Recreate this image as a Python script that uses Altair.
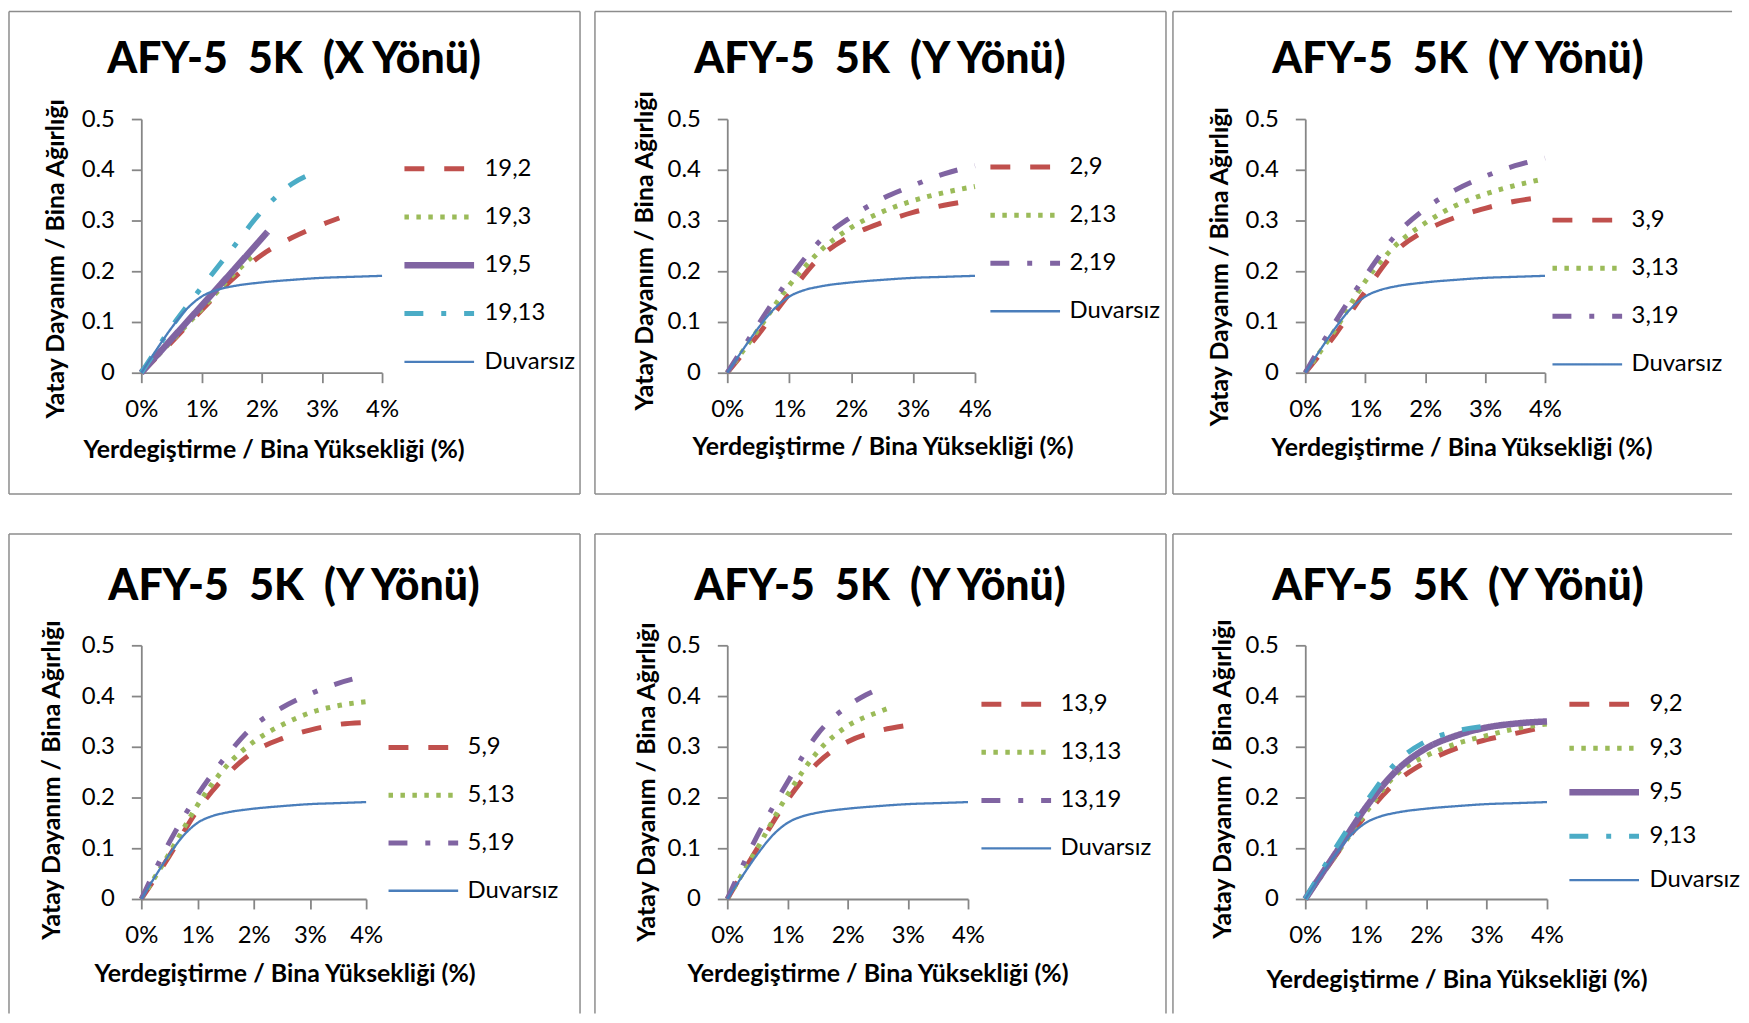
import altair as alt
import pandas as pd

FONT = "Lato"
RED, GREEN, PURPLE, CYAN, BLUE = "#C0504D", "#9BBB59", "#8064A2", "#4BACC6", "#4A7EBB"
BORDER = "#8C8C8C"
AXIS = "#868686"

# ---------------- data ----------------
DUV_X = [0, 0.25, 0.5, 0.75, 1.0, 1.25, 1.5, 2.0, 2.5, 3.0, 3.5, 4.0]
DUV_Y = [0, 0.045, 0.088, 0.125, 0.150, 0.163, 0.170, 0.178, 0.183, 0.187, 0.189, 0.191]

# Panel 1 (X Yönü)
P1_192_X = [0, 0.5, 1.0, 1.5, 2.0, 2.5, 3.0, 3.29]
P1_192_Y = [0, 0.060, 0.123, 0.183, 0.232, 0.266, 0.292, 0.305]
P1_193_X = [0, 0.5, 1.0, 1.5, 1.88]
P1_193_Y = [0, 0.062, 0.125, 0.190, 0.233]
P1_195_X = [0, 0.5, 1.0, 1.5, 2.1]
P1_195_Y = [0, 0.066, 0.132, 0.198, 0.278]
P1_1913_X = [0, 0.25, 0.5, 0.75, 1.0, 1.5, 2.0, 2.5, 2.93]
P1_1913_Y = [0, 0.045, 0.090, 0.130, 0.168, 0.243, 0.318, 0.372, 0.397]

# Panel 2
P2_29_X = [0, 0.5, 1.0, 1.5, 2.0, 2.5, 3.0, 3.5, 4.0]
P2_29_Y = [0, 0.075, 0.155, 0.228, 0.270, 0.296, 0.316, 0.330, 0.340]
P2_213_X = [0, 0.5, 1.0, 1.5, 2.0, 2.5, 3.0, 3.5, 4.0]
P2_213_Y = [0, 0.085, 0.172, 0.240, 0.286, 0.317, 0.339, 0.355, 0.367]
P2_219_X = [0, 0.5, 1.0, 1.5, 2.0, 2.5, 3.0, 3.5, 4.0]
P2_219_Y = [0, 0.095, 0.185, 0.260, 0.307, 0.343, 0.369, 0.392, 0.408]

# Panel 3
P3_39_X = [0, 0.5, 1.0, 1.5, 2.0, 2.5, 3.0, 3.5, 3.9]
P3_39_Y = [0, 0.075, 0.160, 0.238, 0.280, 0.306, 0.324, 0.338, 0.345]
P3_313_X = [0, 0.5, 1.0, 1.5, 2.0, 2.5, 3.0, 3.5, 3.9]
P3_313_Y = [0, 0.085, 0.180, 0.250, 0.295, 0.329, 0.352, 0.369, 0.380]
P3_319_X = [0, 0.5, 1.0, 1.5, 2.0, 2.5, 3.0, 3.5, 4.0]
P3_319_Y = [0, 0.100, 0.190, 0.270, 0.323, 0.360, 0.387, 0.408, 0.423]

# Panel 4
P4_59_X = [0, 0.5, 1.0, 1.5, 2.0, 2.5, 3.0, 3.5, 4.0]
P4_59_Y = [0, 0.085, 0.175, 0.242, 0.290, 0.316, 0.333, 0.344, 0.348]
P4_513_X = [0, 0.5, 1.0, 1.5, 2.0, 2.5, 3.0, 3.5, 4.0]
P4_513_Y = [0, 0.090, 0.185, 0.260, 0.310, 0.343, 0.367, 0.381, 0.389]
P4_519_X = [0, 0.5, 1.0, 1.5, 2.0, 2.5, 3.0, 3.5, 4.0]
P4_519_Y = [0, 0.112, 0.205, 0.280, 0.341, 0.377, 0.404, 0.425, 0.440]

# Panel 5
P5_139_X = [0, 0.5, 1.0, 1.5, 2.0, 2.5, 2.93]
P5_139_Y = [0, 0.100, 0.195, 0.268, 0.310, 0.331, 0.341]
P5_1313_X = [0, 0.5, 1.0, 1.5, 2.0, 2.5, 2.68]
P5_1313_Y = [0, 0.100, 0.205, 0.290, 0.341, 0.368, 0.376]
P5_1319_X = [0, 0.5, 1.0, 1.5, 2.0, 2.3, 2.6]
P5_1319_Y = [0, 0.125, 0.230, 0.325, 0.380, 0.402, 0.418]

# Panel 6
P6_92_X = [0, 0.5, 1.0, 1.5, 2.0, 2.5, 3.0, 3.5, 4.0]
P6_92_Y = [0, 0.085, 0.165, 0.230, 0.270, 0.297, 0.314, 0.327, 0.340]
P6_93_X = [0, 0.5, 1.0, 1.5, 2.0, 2.5, 3.0, 3.5, 4.0]
P6_93_Y = [0, 0.085, 0.170, 0.245, 0.282, 0.306, 0.322, 0.336, 0.345]
P6_95_X = [0, 0.5, 1.0, 1.5, 2.0, 2.5, 3.0, 3.5, 4.0]
P6_95_Y = [0, 0.090, 0.180, 0.252, 0.297, 0.322, 0.338, 0.346, 0.350]
P6_913_X = [0, 0.5, 1.0, 1.5, 2.0, 2.5, 3.1]
P6_913_Y = [0, 0.100, 0.190, 0.268, 0.311, 0.331, 0.342]

X_TICKS = [0, 1, 2, 3, 4]
Y_TICKS = [0, 0.1, 0.2, 0.3, 0.4, 0.5]
X_TITLE = "Yerdegiştirme / Bina Yüksekliği (%)"
Y_TITLE = "Yatay Dayanım / Bina Ağırlığı"
NB = "\u00a0"
TITLE_X = "AFY-5" + NB * 2 + "5K" + NB * 2 + "(X Yönü)"
TITLE_Y = "AFY-5" + NB * 2 + "5K" + NB * 2 + "(Y Yönü)"

# line styles
STY = {
    "dash": (RED, [20, 20], 5),
    "dot": (GREEN, [4.5, 7.5], 5),
    "solidp": (PURPLE, [1, 0], 6.5),
    "dashdotp": (PURPLE, [19, 18, 5, 18], 5),
    "dashdotc": (CYAN, [19, 18, 5, 18], 5),
    "duv": (BLUE, [1, 0], 2.3),
}

PANELS = [
    dict(title=TITLE_X, series=[("19,2", P1_192_X, P1_192_Y, "dash"), ("19,3", P1_193_X, P1_193_Y, "dot"),
                                ("19,5", P1_195_X, P1_195_Y, "solidp"), ("19,13", P1_1913_X, P1_1913_Y, "dashdotc"),
                                ("Duvarsız", DUV_X, DUV_Y, "duv")],
         w=242, yt=(-86, 140), xt=(133, 85), lx=261, lc=50, ls=48.5, row=0, col=0),
    dict(title=TITLE_Y, series=[("2,9", P2_29_X, P2_29_Y, "dash"), ("2,13", P2_213_X, P2_213_Y, "dot"),
                                ("2,19", P2_219_X, P2_219_Y, "dashdotp"), ("Duvarsız", DUV_X, DUV_Y, "duv")],
         w=249, yt=(-83, 132), xt=(156, 82), lx=262, lc=48.3, ls=48.3, row=0, col=1),
    dict(title=TITLE_Y, series=[("3,9", P3_39_X, P3_39_Y, "dash"), ("3,13", P3_313_X, P3_313_Y, "dot"),
                                ("3,19", P3_319_X, P3_319_Y, "dashdotp"), ("Duvarsız", DUV_X, DUV_Y, "duv")],
         w=241, yt=(-86, 148), xt=(157, 83), lx=246, lc=101.6, ls=48.3, row=0, col=2),
    dict(title=TITLE_Y, series=[("5,9", P4_59_X, P4_59_Y, "dash"), ("5,13", P4_513_X, P4_513_Y, "dot"),
                                ("5,19", P4_519_X, P4_519_Y, "dashdotp"), ("Duvarsız", DUV_X, DUV_Y, "duv")],
         w=226, yt=(-90, 135), xt=(144, 83), lx=246, lc=102.7, ls=48, row=1, col=0),
    dict(title=TITLE_Y, series=[("13,9", P5_139_X, P5_139_Y, "dash"), ("13,13", P5_1313_X, P5_1313_Y, "dot"),
                                ("13,19", P5_1319_X, P5_1319_Y, "dashdotp"), ("Duvarsız", DUV_X, DUV_Y, "duv")],
         w=242, yt=(-81, 137), xt=(151, 83), lx=253, lc=59.3, ls=48.3, row=1, col=1),
    dict(title=TITLE_Y, series=[("9,2", P6_92_X, P6_92_Y, "dash"), ("9,3", P6_93_X, P6_93_Y, "dot"),
                                ("9,5", P6_95_X, P6_95_Y, "solidp"), ("9,13", P6_913_X, P6_913_Y, "dashdotc"),
                                ("Duvarsız", DUV_X, DUV_Y, "duv")],
         w=243, yt=(-83, 134), xt=(152, 89), lx=262, lc=59.3, ls=44.2, row=1, col=2),
]

H = 255
ONE = pd.DataFrame({"k": [0]})
CLIP_H = 24       # legend entry height
ENTRY_C = 12      # offset of first entry centre below legendY


def hrule(x, x2, y, color=BORDER):
    return alt.Chart(ONE).mark_rule(color=color, strokeWidth=1.5).encode(
        x=alt.value(x), x2=alt.value(x2), y=alt.value(y))


def vrule(x, y, y2, color=BORDER):
    return alt.Chart(ONE).mark_rule(color=color, strokeWidth=1.5).encode(
        x=alt.value(x), y=alt.value(y), y2=alt.value(y2))


def panel(p):
    rows = []
    for name, xs, ys, _ in p["series"]:
        for i, (xv, yv) in enumerate(zip(xs, ys)):
            rows.append({"series": name, "x": xv, "y": yv, "i": i})
    df = pd.DataFrame(rows)
    names = [s[0] for s in p["series"]]
    colors = [STY[s[3]][0] for s in p["series"]]
    dashes = [STY[s[3]][1] for s in p["series"]]
    widths = [STY[s[3]][2] for s in p["series"]]

    def leg():
        return alt.Legend(orient="none", legendX=p["lx"], legendY=p["lc"] - ENTRY_C, title=None,
                          symbolType="stroke", symbolSize=4900, labelFont=FONT, labelFontSize=24,
                          labelColor="black", labelOffset=7, clipHeight=CLIP_H,
                          rowPadding=max(0, p["ls"] - CLIP_H), padding=0, labelLimit=300)

    lines = alt.Chart(df).mark_line(interpolate="monotone").encode(
        x=alt.X("x:Q", scale=alt.Scale(domain=[0, 4], nice=False, zero=False),
                axis=alt.Axis(values=X_TICKS, labelExpr="datum.value + '%'", title=X_TITLE,
                              titleX=p["xt"][0], titleY=p["xt"][1], titleAlign="center",
                              titleBaseline="alphabetic", labelPadding=15, labelFlush=False)),
        y=alt.Y("y:Q", scale=alt.Scale(domain=[0, 0.5], nice=False),
                axis=alt.Axis(values=Y_TICKS,
                              labelExpr="datum.value == 0 ? '0' : format(datum.value, '.1f')",
                              title=Y_TITLE, titleX=p["yt"][0], titleY=p["yt"][1], titleAngle=270,
                              titleAlign="center", titleBaseline="middle", labelPadding=17,
                              labelFlush=False)),
        color=alt.Color("series:N", scale=alt.Scale(domain=names, range=colors), legend=leg()),
        strokeDash=alt.StrokeDash("series:N", scale=alt.Scale(domain=names, range=dashes), legend=leg()),
        strokeWidth=alt.StrokeWidth("series:N", scale=alt.Scale(type="ordinal", domain=names, range=widths),
                                    legend=leg()),
        order=alt.Order("i:Q"),
    )

    top = -108 if p["row"] == 0 else -112
    bottom = 377 if p["row"] == 0 else 370
    left = -133
    right = 441 if p["col"] < 2 else 429
    layers = [lines,
              hrule(left, right, top),
              vrule(left, top, bottom)]
    if p["row"] == 0:
        layers.append(hrule(left, right, bottom))
    if p["col"] < 2:
        layers.append(vrule(right, top, bottom))
    if p["col"] == 0:
        layers.append(vrule(449, 0, 1, color="white"))
    title = alt.Chart(ONE).mark_text(font=FONT, fontSize=43, fontWeight=900, align="center",
                                      baseline="alphabetic", color="black").encode(
        x=alt.value(153.5), y=alt.value(-46.5 if p["row"] == 0 else -46), text=alt.value(p["title"]))
    layers.append(title)
    return alt.layer(*layers).properties(width=p["w"], height=H)


charts = [panel(p) for p in PANELS]

chart = alt.concat(*charts, columns=3, spacing={"row": 38, "column": 5}, align="none", bounds="full").properties(
    padding={"left": 0, "top": 0, "right": 0, "bottom": 0}
).resolve_scale(
    x="independent", y="independent", color="independent", strokeDash="independent", strokeWidth="independent"
).resolve_legend(
    color="independent", strokeDash="independent", strokeWidth="independent"
).configure_view(stroke=None).configure_axis(
    domainColor=AXIS, domainWidth=1.8, tickColor=AXIS, tickWidth=1.8, tickSize=10,
    labelFont=FONT, labelFontSize=24, labelColor="black",
    titleFont=FONT, titleFontSize=25, titleFontWeight="bold", titleColor="black", grid=False
)

chart.save("out.html", embed_options={"renderer": "svg", "actions": False})
